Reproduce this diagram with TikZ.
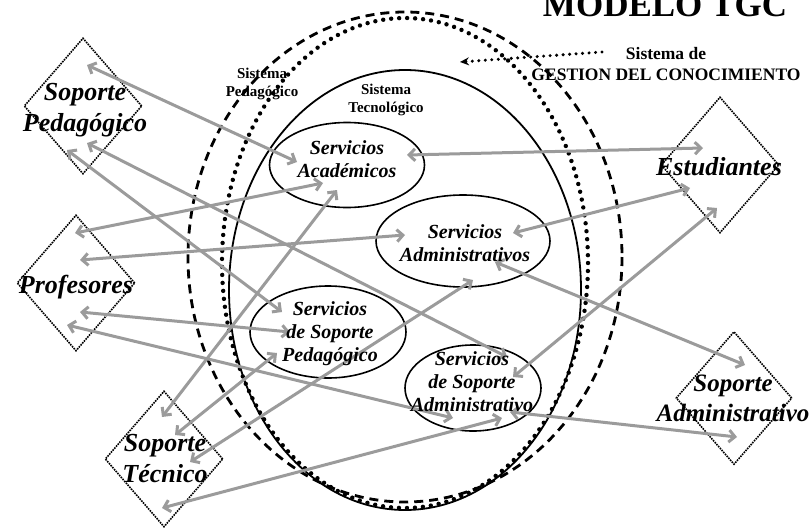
\documentclass[tikz,border=0pt]{standalone}
\usepackage{fontspec}
\setmainfont{Liberation Serif}
\usetikzlibrary{arrows.meta, shapes.geometric}
\definecolor{grisflecha}{RGB}{155,155,155}
\tikzset{
	rombo/.style={draw, diamond, line width=1.6pt, dash pattern=on 1.6pt off 1pt, minimum width=118pt, minimum height=136pt, inner sep=0pt},
	servicio/.style={draw, ellipse, line width=1.6pt, inner sep=0pt},
	flecha/.style={<->, >={Straight Barb[length=6pt,width=12pt]}, draw=grisflecha, line width=3pt},
	actor/.style={font=\fontsize{26}{31}\selectfont\bfseries\itshape, align=center, inner sep=0pt},
	txtserv/.style={font=\fontsize{20}{23}\selectfont\bfseries\itshape, align=center, inner sep=0pt},
	sistema/.style={font=\fontsize{15}{18}\selectfont\bfseries, align=center, inner sep=0pt}
}
\begin{document}
\begin{tikzpicture}[x=1pt, y=-1pt]
	\useasboundingbox (0,0) rectangle (810,527);
	\clip (0,0) rectangle (810,527);
	\draw[line width=2.8pt, dash pattern=on 9pt off 6pt] (405,257) ellipse [x radius=217, y radius=245];
	\draw[line width=4.4pt, line cap=round, dash pattern=on 0pt off 8pt] (405,263) ellipse [x radius=183, y radius=245];
	\draw[line width=1.8pt] (405,290) ellipse [x radius=176, y radius=220];

	\node[servicio, minimum width=155pt, minimum height=85pt] (sac) at (347,165) {};
	\node[servicio, minimum width=174pt, minimum height=92pt] (sadm) at (463,241) {};
	\node[servicio, minimum width=156pt, minimum height=92pt] (ssp) at (328,332) {};
	\node[servicio, minimum width=136pt, minimum height=86pt] (ssa) at (473,388) {};

	\node[rombo] (sp) at (83,106) {};
	\node[rombo] (pr) at (76,283) {};
	\node[rombo] (es) at (720,165) {};
	\node[rombo, minimum height=133pt, minimum width=116pt] (sad) at (734,398) {};
	\node[rombo] (st) at (164,459) {};

	\draw[flecha] ([shift={(4,-41)}]sp.center) -- ([shift={(-50,-3)}]sac.center);
	\draw[flecha] ([shift={(4,37)}]sp.center) -- ([shift={(34,-31)}]ssa.center);
	\draw[flecha] ([shift={(-16,44)}]sp.center) -- ([shift={(-46,-20)}]ssp.center);
	\draw[flecha] ([shift={(60,-10)}]sac.center) -- ([shift={(-17,-17)}]es.center);
	\draw[flecha] ([shift={(-1,-50)}]pr.center) -- ([shift={(-24,18)}]sac.center);
	\draw[flecha] ([shift={(4,-23)}]pr.center) -- ([shift={(-58,-6)}]sadm.center);
	\draw[flecha] ([shift={(50,-8)}]sadm.center) -- ([shift={(-30,23)}]es.center);
	\draw[flecha] ([shift={(-3,43)}]es.center) -- ([shift={(40,-11)}]ssa.center);
	\draw[flecha] ([shift={(32,21)}]sadm.center) -- ([shift={(11,-33)}]sad.center);
	\draw[flecha] ([shift={(4,29)}]pr.center) -- ([shift={(-38,0)}]ssp.center);
	\draw[flecha] ([shift={(-9,42)}]pr.center) -- ([shift={(-20,30)}]ssa.center);
	\draw[flecha] ([shift={(37,24)}]ssa.center) -- ([shift={(3,39)}]sad.center);
	\draw[flecha] ([shift={(-2,-42)}]st.center) -- ([shift={(-10,25)}]sac.center);
	\draw[flecha] ([shift={(11,-24)}]st.center) -- ([shift={(-51,21)}]ssp.center);
	\draw[flecha] ([shift={(26,3)}]st.center) -- ([shift={(10,39)}]sadm.center);
	\draw[flecha] ([shift={(-2,49)}]st.center) -- ([shift={(29,30)}]ssa.center);

	\coordinate (gc1) at (602,52);
	\coordinate (gc2) at (460,62);
	\draw[line width=3.4pt, line cap=round, dash pattern=on 0pt off 6.5pt, -{Stealth[length=9pt,width=8pt]}] (gc1) -- (gc2);

	\node[font=\fontsize{35}{35}\selectfont\bfseries, anchor=base, inner sep=0pt] (titulo) at (665,17) {MODELO TGC};
	\node[font=\fontsize{17.5}{21}\selectfont\bfseries, align=center, inner sep=0pt] (gestion) at (666,64.5) {Sistema de\\GESTION DEL CONOCIMIENTO};
	\node[sistema] (sped) at (262,83.5) {Sistema\\Pedagógico};
	\node[sistema] (stec) at (386,100) {Sistema\\Tecnológico};

	\node[txtserv] (sac-t) at (347,159) {Servicios\\Académicos};
	\node[txtserv] (sadm-t) at (465,243) {Servicios\\Administrativos};
	\node[txtserv] (ssp-t) at (330,334) {Servicios\\de Soporte\\Pedagógico};
	\node[txtserv] (ssa-t) at (472,382) {Servicios\\de Soporte\\Administrativo};

	\node[actor] (sp-t) at (85,110) {Soporte\\Pedagógico};
	\node[actor, anchor=base] (pr-t) at (76,293) {Profesores};
	\node[actor, anchor=base] (es-t) at (719,175) {Estudiantes};
	\node[actor, font=\fontsize{25}{30}\selectfont\bfseries\itshape] (sad-t) at (733,398) {Soporte\\Administrativo};
	\node[actor] (st-t) at (165,459) {Soporte\\Técnico};
\end{tikzpicture}
\end{document}
